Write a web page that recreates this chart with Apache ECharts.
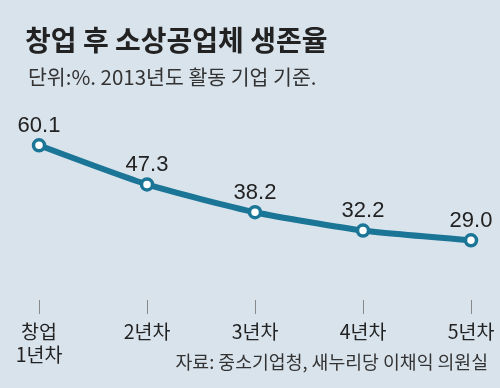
<!DOCTYPE html>
<html><head><meta charset="utf-8">
<script src="https://cdn.jsdelivr.net/npm/echarts@6/dist/echarts.min.js"></script>
<style>html,body{margin:0;padding:0;background:#d9e3ec;}#c{width:500px;height:388px;}</style>
</head><body><div id="c"></div>
<script>
const categories = ['창업\n1년차', '2년차', '3년차', '4년차', '5년차'];
const survivalRate = [60.1, 47.3, 38.2, 32.2, 29.0];
const titleText = '창업 후 소상공업체 생존율';
const subtitleText = '단위:%. 2013년도 활동 기업 기준.';
const sourceText = '자료: 중소기업청, 새누리당 이채익 의원실';

const font = '"Noto Sans CJK KR", "Liberation Sans", sans-serif';
const chart = echarts.init(document.getElementById('c'));
chart.setOption({
  backgroundColor: '#d9e3ec',
  animation: false,
  title: [
    { text: titleText, left: 20, top: 21, textStyle: { fontFamily: font, fontSize: 28, fontWeight: 'bold', color: '#222' } },
    { text: subtitleText, left: 23, top: 62, textStyle: { fontFamily: font, fontSize: 20.5, fontWeight: 'normal', color: '#333' } },
    { text: sourceText, right: 7, top: 348, textStyle: { fontFamily: font, fontSize: 18.3, fontWeight: 'normal', color: '#333' } }
  ],
  grid: { left: 39, right: 29, top: 115, bottom: 88 },
  xAxis: {
    type: 'category', data: categories, boundaryGap: false,
    axisLine: { show: false },
    axisTick: { show: true, alignWithLabel: true, length: 14, lineStyle: { color: '#888', width: 1 } },
    axisLabel: { margin: 20, fontFamily: font, fontSize: 19.5, color: '#222', lineHeight: 23, interval: 0 },
    splitLine: { show: false }
  },
  yAxis: { type: 'value', min: 9.5, max: 70, show: false, splitLine: { show: false } },
  series: [{
    type: 'line', data: survivalRate, smooth: 0.2,
    lineStyle: { color: '#1a7596', width: 6 },
    symbol: 'circle', symbolSize: 11,
    itemStyle: { color: '#ffffff', borderColor: '#1a7596', borderWidth: 3.5 },
    label: { show: true, position: 'top', distance: 1, fontFamily: '"Liberation Sans", Arial, sans-serif', fontSize: 22, color: '#222',
      formatter: p => p.value.toFixed(1) }
  }]
});
</script></body></html>
